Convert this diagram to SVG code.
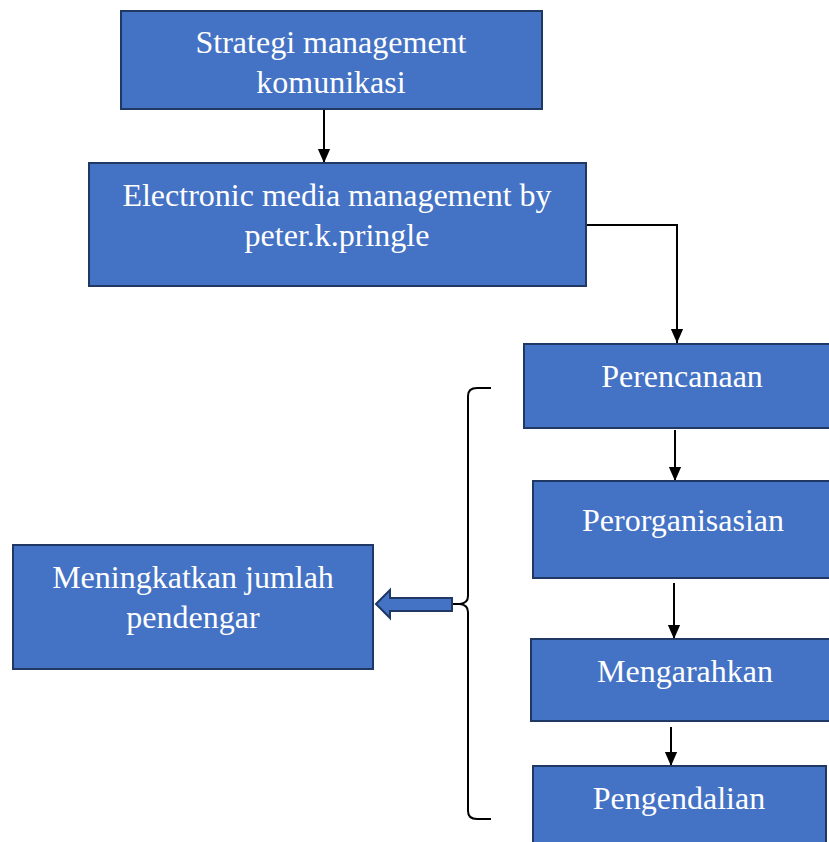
<svg xmlns="http://www.w3.org/2000/svg" width="829" height="842" viewBox="0 0 829 842">
<style>
.box{fill:#4472C4;stroke:#1F3864;stroke-width:2}
.t{font-family:"Liberation Serif",serif;font-size:32px;fill:#fff;text-anchor:middle}
.c{fill:none;stroke:#000;stroke-width:2}
</style>
<defs>
<marker id="ah" markerWidth="14" markerHeight="16" refX="16" refY="7" orient="auto" markerUnits="userSpaceOnUse" viewBox="0 0 16 14">
<path d="M0,0 L16,7 L0,14 z" fill="#000"/>
</marker>
</defs>
<rect width="829" height="842" fill="#fff"/>
<g id="connectors">
<path class="c" d="M324,110 V163" marker-end="url(#ah)"/>
<path class="c" d="M586,225 H677 V343" marker-end="url(#ah)"/>
<path class="c" d="M675,430 V481" marker-end="url(#ah)"/>
<path class="c" d="M674,583 V639" marker-end="url(#ah)"/>
<path class="c" d="M671,727 V766" marker-end="url(#ah)"/>
<path class="c" d="M491,388 H477 Q468,388 468,396 V596 Q468,603 460,604 H453 H460 Q468,605 468,612 V811 Q468,819 477,819 H491"/>
<path d="M376,604 L390,590 V598 H452 V611 H390 V618 Z" fill="#4472C4" stroke="#1F3864" stroke-width="2"/>
</g>
<g id="n1">
<rect class="box" x="121" y="11" width="421" height="98"/>
<text class="t" x="331" y="53">Strategi management</text>
<text class="t" x="331" y="93">komunikasi</text>
</g>
<g id="n2">
<rect class="box" x="89" y="163" width="497" height="123"/>
<text class="t" x="337" y="206">Electronic media management by</text>
<text class="t" x="337" y="246">peter.k.pringle</text>
</g>
<g id="n3">
<rect class="box" x="524" y="344" width="310" height="84"/>
<text class="t" x="682" y="387">Perencanaan</text>
</g>
<g id="n4">
<rect class="box" x="533" y="481" width="301" height="97"/>
<text class="t" x="683" y="531">Perorganisasian</text>
</g>
<g id="n5">
<rect class="box" x="531" y="639" width="303" height="82"/>
<text class="t" x="685" y="682">Mengarahkan</text>
</g>
<g id="n6">
<rect class="box" x="533" y="766" width="293" height="82"/>
<text class="t" x="679" y="809">Pengendalian</text>
</g>
<g id="n7">
<rect class="box" x="13" y="545" width="360" height="124"/>
<text class="t" x="193" y="588">Meningkatkan jumlah</text>
<text class="t" x="193" y="628">pendengar</text>
</g>
</svg>
